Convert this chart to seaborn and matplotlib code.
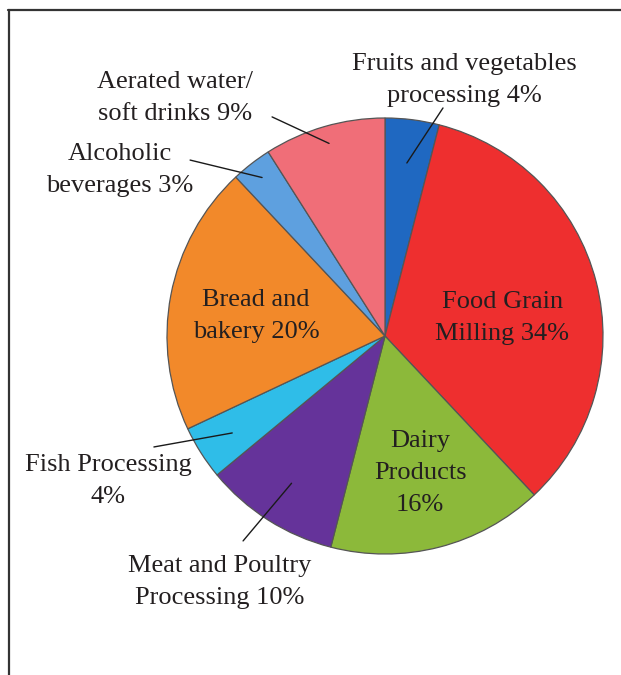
import numpy as np
import matplotlib
matplotlib.use("Agg")
import matplotlib.pyplot as plt
from matplotlib.lines import Line2D
import seaborn as sns

# -----------------------------
# DATA
# -----------------------------
labels = [
    "Fruits and vegetables\nprocessing 4%",
    "Food Grain\nMilling 34%",
    "Dairy\nProducts\n16%",
    "Meat and Poultry\nProcessing 10%",
    "Fish Processing\n4%",
    "Bread and\nbakery 20%",
    "Alcoholic\nbeverages 3%",
    "Aerated water/\nsoft drinks 9%",
]
shares = [4, 34, 16, 10, 4, 20, 3, 9]
colors = ["#1f68c1", "#ee2f2f", "#8cb93a", "#65339a",
          "#2fbde8", "#f2892a", "#5ea0df", "#f06e78"]

# label positions (data coords, pie radius = 1) and leader line settings
label_pos = [(0.362, 1.174), (0.537, 0.083), (0.161, -0.628), (-0.757, -1.128),
             (-1.271, -0.665), (-0.592, 0.092), (-1.216, 0.761), (-0.963, 1.092)]
# (label end of line, radius on wedge) or None for labels inside the pie
leaders = [((0.266, 1.046), 0.80), None, None, ((-0.651, -0.940), 0.80),
           ((-1.060, -0.509), 0.83), None, ((-0.894, 0.807), 0.92),
           ((-0.518, 1.005), 0.92)]

# -----------------------------
# PLOT
# -----------------------------
sns.set_style("white")
plt.rcParams["font.family"] = ["Liberation Serif", "DejaVu Serif"]

fig = plt.figure(figsize=(6.21, 6.75), dpi=100)
ax = fig.add_axes([167 / 621, (675 - 554) / 675, 436 / 621, 436 / 675])

wedges, _ = ax.pie(shares, colors=sns.color_palette(colors), startangle=90,
                   counterclock=False, radius=1,
                   wedgeprops=dict(edgecolor="#555555", linewidth=0.9))
ax.set_xlim(-1, 1)
ax.set_ylim(-1, 1)
ax.set_aspect("equal")
ax.axis("off")

for w, lab, pos, lead in zip(wedges, labels, label_pos, leaders):
    ax.text(pos[0], pos[1], lab, ha="center", va="center", fontsize=19,
            color="#231f20", linespacing=1.6, clip_on=False)
    if lead is not None:
        ang = np.deg2rad((w.theta1 + w.theta2) / 2)
        r = lead[1]
        ax.add_line(Line2D([lead[0][0], r * np.cos(ang)],
                           [lead[0][1], r * np.sin(ang)],
                           color="#1a1a1a", linewidth=1.0, clip_on=False))

# frame (top and left edges)
fig.add_artist(Line2D([8 / 621, 1], [1 - 10 / 675, 1 - 10 / 675],
                      color="#333333", linewidth=1.6))
fig.add_artist(Line2D([9 / 621, 9 / 621], [0, 1 - 10 / 675],
                      color="#333333", linewidth=1.6))

fig.savefig("out.png", dpi=100, facecolor="white")
